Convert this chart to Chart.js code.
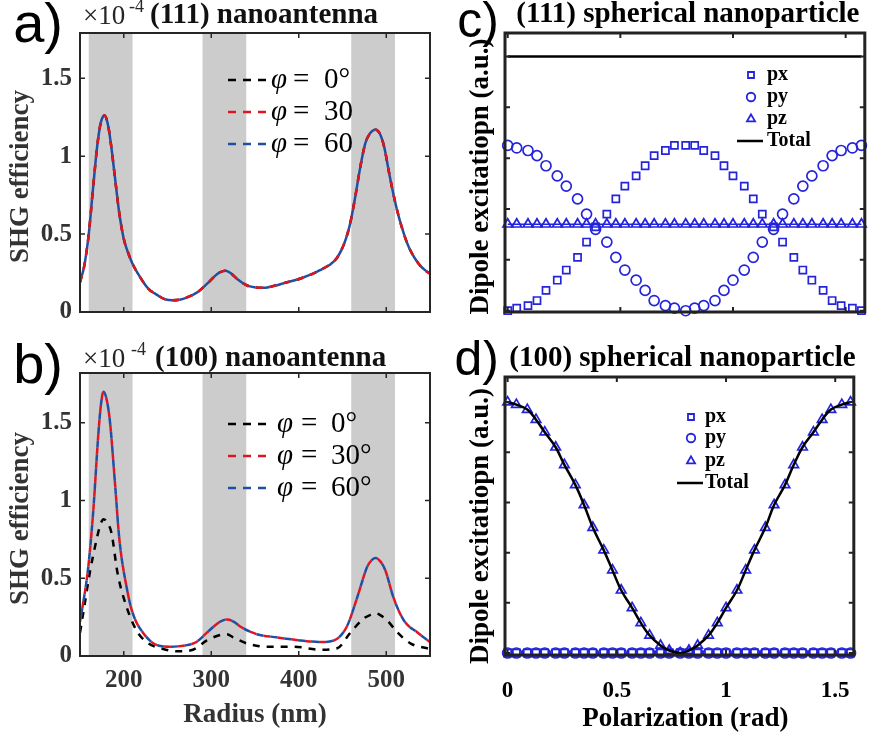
<!DOCTYPE html>
<html>
<head>
<meta charset="utf-8">
<script src="https://cdn.jsdelivr.net/npm/chart.js@4.4.1/dist/chart.umd.min.js"></script>
<style>
html, body { margin: 0; padding: 0; background: #fff; }
#wrap { position: relative; width: 872px; height: 736px; overflow: hidden; }
canvas { position: absolute; }
</style>
</head>
<body>
<div id="wrap">
<canvas id="panelA" width="436" height="340" style="left:0;top:0"></canvas>
<canvas id="panelB" width="436" height="396" style="left:0;top:340px"></canvas>
<canvas id="panelC" width="436" height="340" style="left:436px;top:0"></canvas>
<canvas id="panelD" width="436" height="396" style="left:436px;top:340px"></canvas>
</div>
<script>
// shaded resonance bands (nm)
const bandsNm = [[160, 210], [290, 340], [460, 510]];
const radiusTicks = [200, 300, 400, 500];
const shgTicks = [0, 0.5, 1, 1.5];
const polarTicks = [0, 0.5, 1, 1.5];
const dipoleTicks = [0, 0.2, 0.4, 0.6, 0.8, 1];

// (a) (111) nanoantenna, x10^-4 -- the three polarizations lie on top of each other
const radiusA = [150, 155, 160, 165, 170, 174, 178, 182, 186, 190, 195, 200, 205, 210, 218, 228, 238, 248, 256, 265,
  275, 285, 295, 304, 310, 316, 322, 330, 341, 350, 359, 370, 383, 402, 425, 437, 444, 452, 458, 464,
  470, 476, 482, 488, 493, 498, 503, 508, 513, 518, 524, 530, 537, 544, 550];
const shgA = [0.19, 0.3, 0.5, 0.8, 1.08, 1.22, 1.26, 1.2, 1.05, 0.86, 0.63, 0.47, 0.38, 0.31, 0.23, 0.15, 0.11, 0.08, 0.075, 0.08,
  0.1, 0.13, 0.18, 0.23, 0.255, 0.265, 0.25, 0.21, 0.17, 0.158, 0.155, 0.165, 0.185, 0.215, 0.27, 0.31, 0.35, 0.44, 0.55, 0.72,
  0.92, 1.08, 1.15, 1.17, 1.14, 1.05, 0.9, 0.76, 0.64, 0.54, 0.44, 0.37, 0.31, 0.27, 0.245];

// (b) (100) nanoantenna, x10^-4
const radiusB = [150, 153, 159, 165, 171, 174, 177, 180, 184, 190, 195, 203, 210, 222, 238, 253, 272, 283, 295, 310,
  318, 326, 333, 352, 375, 402, 425, 440, 455, 467, 478, 484, 488, 493, 499, 508, 520, 536, 550];
const shgB30 = [0.22, 0.32, 0.55, 0.92, 1.43, 1.62, 1.7, 1.66, 1.52, 1.11, 0.75, 0.45, 0.28, 0.15, 0.07, 0.06, 0.07, 0.09, 0.15, 0.22,
  0.235, 0.22, 0.19, 0.14, 0.12, 0.1, 0.09, 0.1, 0.19, 0.38, 0.57, 0.62, 0.63, 0.61, 0.55, 0.38, 0.23, 0.15, 0.09];
const shgB60 = [0.22, 0.32, 0.55, 0.92, 1.43, 1.62, 1.7, 1.66, 1.52, 1.11, 0.75, 0.45, 0.28, 0.15, 0.07, 0.06, 0.07, 0.09, 0.15, 0.22,
  0.235, 0.22, 0.19, 0.14, 0.12, 0.1, 0.09, 0.1, 0.19, 0.38, 0.57, 0.62, 0.63, 0.61, 0.55, 0.38, 0.23, 0.15, 0.09];
const radiusB0 = [150, 155, 161, 169, 173, 177, 181, 186, 193, 203, 214, 226, 245, 264, 279, 295, 310, 318, 325, 341,
  364, 394, 425, 444, 459, 474, 482, 488, 494, 501, 513, 528, 550];
const shgB0 = [0.15, 0.32, 0.53, 0.75, 0.84, 0.88, 0.86, 0.79, 0.53, 0.32, 0.17, 0.09, 0.045, 0.03, 0.04, 0.1, 0.135, 0.14, 0.12, 0.08,
  0.06, 0.06, 0.04, 0.05, 0.15, 0.24, 0.265, 0.275, 0.26, 0.23, 0.15, 0.08, 0.045];

// (c), (d) dipole excitation vs polarization angle (rad)
const polarRad = [0, 0.04, 0.09, 0.13, 0.17, 0.22, 0.26, 0.31, 0.35, 0.39, 0.44, 0.48, 0.52, 0.57, 0.61, 0.65, 0.70, 0.74, 0.79,
  0.83, 0.87, 0.92, 0.96, 1.00, 1.05, 1.09, 1.13, 1.18, 1.22, 1.27, 1.31, 1.35, 1.40, 1.44, 1.48, 1.53, 1.57];
const pxC = [0, 0.01, 0.02, 0.04, 0.08, 0.12, 0.16, 0.21, 0.27, 0.33, 0.38, 0.44, 0.49, 0.53, 0.57, 0.61, 0.63, 0.65, 0.65,
  0.65, 0.63, 0.61, 0.57, 0.53, 0.49, 0.44, 0.38, 0.33, 0.27, 0.21, 0.16, 0.12, 0.08, 0.04, 0.02, 0.01, 0];
const pyC = [0.65, 0.64, 0.63, 0.61, 0.57, 0.53, 0.49, 0.44, 0.38, 0.32, 0.27, 0.21, 0.16, 0.12, 0.08, 0.04, 0.02, 0.01, 0,
  0.01, 0.02, 0.04, 0.08, 0.12, 0.16, 0.21, 0.27, 0.32, 0.38, 0.44, 0.49, 0.53, 0.57, 0.61, 0.63, 0.64, 0.65];
const pzC = [0.34, 0.34, 0.34, 0.34, 0.34, 0.34, 0.34, 0.34, 0.34, 0.34, 0.34, 0.34, 0.34, 0.34, 0.34, 0.34, 0.34, 0.34, 0.34,
  0.34, 0.34, 0.34, 0.34, 0.34, 0.34, 0.34, 0.34, 0.34, 0.34, 0.34, 0.34, 0.34, 0.34, 0.34, 0.34, 0.34, 0.34];
const totalC = [1, 1, 1, 1, 1, 1, 1, 1, 1, 1, 1, 1, 1, 1, 1, 1, 1, 1, 1,
  1, 1, 1, 1, 1, 1, 1, 1, 1, 1, 1, 1, 1, 1, 1, 1, 1, 1];
const pxD = [0, 0, 0, 0, 0, 0, 0, 0, 0, 0, 0, 0, 0, 0, 0, 0, 0, 0, 0,
  0, 0, 0, 0, 0, 0, 0, 0, 0, 0, 0, 0, 0, 0, 0, 0, 0, 0];
const pyD = [0, 0, 0, 0, 0, 0, 0, 0, 0, 0, 0, 0, 0, 0, 0, 0, 0, 0, 0,
  0, 0, 0, 0, 0, 0, 0, 0, 0, 0, 0, 0, 0, 0, 0, 0, 0, 0];
const pzD = [1, 0.99, 0.97, 0.93, 0.88, 0.82, 0.75, 0.67, 0.59, 0.5, 0.41, 0.33, 0.25, 0.18, 0.12, 0.07, 0.03, 0.01, 0,
  0.01, 0.03, 0.07, 0.12, 0.18, 0.25, 0.33, 0.41, 0.5, 0.59, 0.67, 0.75, 0.82, 0.88, 0.93, 0.97, 0.99, 1];
const totalD = [1, 0.99, 0.97, 0.93, 0.88, 0.82, 0.75, 0.67, 0.59, 0.5, 0.41, 0.33, 0.25, 0.18, 0.12, 0.07, 0.03, 0.01, 0,
  0.01, 0.03, 0.07, 0.12, 0.18, 0.25, 0.33, 0.41, 0.5, 0.59, 0.67, 0.75, 0.82, 0.88, 0.93, 0.97, 0.99, 1];

const SERIF = 'Liberation Serif';
const SANS = 'Liberation Sans';
const RED = '#e01522';
const NAVY = '#1f4fa3';
const BLUE = '#2424dc';
const GREY = '#333333';

const pts = (xs, ys) => xs.map((x, i) => ({ x: x, y: ys[i] }));

function drawMarker(ctx, style, x, y, r) {
    ctx.beginPath();
    if (style === 'rect') {
        const s = r * Math.SQRT1_2;
        ctx.rect(x - s, y - s, 2 * s, 2 * s);
    } else if (style === 'circle') {
        ctx.arc(x, y, r, 0, Math.PI * 2);
    } else {
        ctx.moveTo(x, y - r);
        ctx.lineTo(x + r * 0.866, y + r / 2);
        ctx.lineTo(x - r * 0.866, y + r / 2);
        ctx.closePath();
    }
    ctx.stroke();
}

// bands, boxed frame with inward ticks, titles and legends
const panelPlugin = {
    id: 'panel',
    beforeDatasetsDraw(chart, args, o) {
        if (!o.bands) return;
        const { ctx, chartArea: a, scales: { x } } = chart;
        ctx.save();
        ctx.fillStyle = '#cccccc';
        o.bands.forEach(([b0, b1]) => {
            const x0 = Math.max(a.left, x.getPixelForValue(b0));
            const x1 = Math.min(a.right, x.getPixelForValue(b1));
            ctx.fillRect(x0, a.top, x1 - x0, a.bottom - a.top);
        });
        ctx.restore();
    },
    afterDraw(chart, args, o) {
        const { ctx, chartArea: a, scales: { x, y } } = chart;
        ctx.save();
        ctx.strokeStyle = o.frameColor;
        ctx.lineWidth = o.tickWidth;
        ctx.beginPath();
        x.ticks.forEach(t => {
            const px = x.getPixelForValue(t.value);
            ctx.moveTo(px, a.bottom); ctx.lineTo(px, a.bottom - o.tickLen);
            ctx.moveTo(px, a.top); ctx.lineTo(px, a.top + o.tickLen);
        });
        y.ticks.forEach(t => {
            const py = y.getPixelForValue(t.value);
            ctx.moveTo(a.left, py); ctx.lineTo(a.left + o.tickLen, py);
            ctx.moveTo(a.right, py); ctx.lineTo(a.right - o.tickLen, py);
        });
        ctx.stroke();
        ctx.lineWidth = o.frameWidth;
        ctx.strokeRect(a.left, a.top, a.right - a.left, a.bottom - a.top);

        (o.texts || []).forEach(t => {
            ctx.save();
            ctx.font = t.font;
            ctx.fillStyle = t.color || '#000';
            ctx.textAlign = t.align || 'left';
            ctx.textBaseline = t.baseline || 'alphabetic';
            const tx = typeof t.x === 'function' ? t.x(a) : t.x;
            const ty = typeof t.y === 'function' ? t.y(a) : t.y;
            ctx.translate(tx, ty);
            if (t.rotate) ctx.rotate(-Math.PI / 2);
            ctx.fillText(t.text, 0, 0);
            ctx.restore();
        });

        const dl = o.dashLegend;
        if (dl) {
            chart.data.datasets.forEach((ds, i) => {
                const ry = dl.rows[i];
                const [, val] = ds.label.split(' = ');
                ctx.strokeStyle = ds.borderColor;
                ctx.lineWidth = 2.5;
                ctx.setLineDash([8, 7]);
                ctx.beginPath();
                ctx.moveTo(dl.x0, ry); ctx.lineTo(dl.x1, ry);
                ctx.stroke();
                ctx.setLineDash([]);
                ctx.fillStyle = '#000';
                ctx.textBaseline = 'alphabetic';
                ctx.textAlign = 'left';
                ctx.font = 'italic 29px ' + SERIF;
                ctx.fillText('\u03c6', dl.phiX, ry + 8);
                ctx.font = '29px ' + SERIF;
                ctx.fillText('=', dl.eqX, ry + 8);
                ctx.fillText(val, dl.valX, ry + 8);
            });
        }

        const ml = o.markerLegend;
        if (ml) {
            chart.data.datasets.forEach((ds, i) => {
                const ry = ml.rows[i];
                if (ds.pointRadius > 0) {
                    ctx.strokeStyle = ds.pointBorderColor;
                    ctx.lineWidth = 1.8;
                    drawMarker(ctx, ds.pointStyle, ml.markerX, ry, ds.pointRadius * 0.85);
                } else {
                    ctx.strokeStyle = ds.borderColor;
                    ctx.lineWidth = 2.5;
                    ctx.beginPath();
                    ctx.moveTo(ml.lineX0, ry); ctx.lineTo(ml.lineX1, ry);
                    ctx.stroke();
                }
                ctx.fillStyle = '#000';
                ctx.font = 'bold 20px ' + SERIF;
                ctx.textAlign = 'left';
                ctx.textBaseline = 'middle';
                ctx.fillText(ds.label, ml.textX, ry);
            });
        }
        ctx.restore();
    }
};

function makeOptions(cfg) {
    return {
        responsive: false,
        animation: false,
        devicePixelRatio: 1,
        events: [],
        layout: { padding: cfg.padding },
        plugins: {
            legend: { display: false },
            tooltip: { enabled: false },
            panel: cfg.panel,
        },
        scales: {
            x: {
                type: 'linear',
                min: cfg.xMin,
                max: cfg.xMax,
                afterBuildTicks: s => { s.ticks = cfg.xTicks.map(v => ({ value: v })); },
                afterFit: s => { s.height = cfg.xHeight; },
                grid: { display: false, drawTicks: false },
                border: { display: false },
                ticks: {
                    display: cfg.xLabels,
                    autoSkip: false,
                    maxRotation: 0,
                    padding: cfg.xPad,
                    color: cfg.tickColor,
                    font: { family: SERIF, weight: 'bold', size: cfg.xFont },
                    callback: v => String(v),
                },
            },
            y: {
                type: 'linear',
                min: cfg.yMin,
                max: cfg.yMax,
                afterBuildTicks: s => { s.ticks = cfg.yTicks.map(v => ({ value: v })); },
                afterFit: s => { s.width = cfg.yWidth; },
                grid: { display: false, drawTicks: false },
                border: { display: false },
                ticks: {
                    display: cfg.yLabels,
                    padding: 8,
                    color: cfg.tickColor,
                    font: { family: SERIF, weight: 'bold', size: 25 },
                    callback: v => String(v),
                },
            },
        },
    };
}

function shgDataset(label, data, color, order, offset) {
    return {
        label: label,
        data: data,
        borderColor: color,
        borderWidth: 2.5,
        borderDash: [7, 7],
        borderDashOffset: offset,
        pointRadius: 0,
        cubicInterpolationMode: 'monotone',
        fill: false,
        order: order,
    };
}

function dipoleDataset(label, data, style, showLine, order) {
    const sizes = { rect: 5, circle: 5, triangle: 5.5 };
    return {
        label: label,
        data: data,
        showLine: showLine,
        borderColor: BLUE,
        borderWidth: 1.5,
        pointStyle: style,
        pointRadius: sizes[style],
        pointBorderColor: BLUE,
        pointBackgroundColor: 'rgba(0,0,0,0)',
        pointBorderWidth: 1.7,
        clip: 8,
        order: order,
    };
}

function totalDataset(data, order) {
    return {
        label: 'Total',
        data: data,
        borderColor: '#000',
        borderWidth: 2.5,
        pointRadius: 0,
        tension: 0.4,
        clip: 8,
        order: order,
    };
}

const shgAxisTitle = { text: 'SHG efficiency', font: 'bold 27px ' + SERIF, color: GREY, rotate: true,
    align: 'center', baseline: 'middle', x: 21, y: a => (a.top + a.bottom) / 2 + 4 };

// (a)
new Chart(document.getElementById('panelA'), {
    type: 'line',
    data: {
        datasets: [
            shgDataset('\u03c6 = 0\u00b0', pts(radiusA, shgA), '#000000', 3, 0),
            shgDataset('\u03c6 = 30', pts(radiusA, shgA), RED, 2, 0),
            shgDataset('\u03c6 = 60', pts(radiusA, shgA), NAVY, 1, 7),
        ],
    },
    options: makeOptions({
        padding: { left: 0, top: 33, right: 6, bottom: 0 },
        xMin: 150, xMax: 550, xTicks: radiusTicks, xHeight: 28, xLabels: false, xPad: 10, xFont: 25,
        yMin: 0, yMax: 1.79, yTicks: shgTicks, yWidth: 80, yLabels: true, tickColor: GREY,
        panel: {
            bands: bandsNm, frameColor: '#262626', frameWidth: 2, tickWidth: 1.5, tickLen: 5,
            texts: [
                { text: 'a)', font: '56px ' + SANS, x: 63, y: 42, align: 'right' },
                { text: '\u00d710', font: '27px ' + SERIF, color: '#262626', x: 83, y: 24 },
                { text: '-4', font: '18px ' + SERIF, color: '#262626', x: 129, y: 12 },
                { text: '(111) nanoantenna', font: 'bold 29px ' + SERIF, color: '#111', x: 150, y: 23 },
                shgAxisTitle,
            ],
            dashLegend: { x0: 228, x1: 268, phiX: 271, eqX: 293, valX: 324, rows: [80, 112, 144] },
        },
    }),
    plugins: [panelPlugin],
});

// (b)
new Chart(document.getElementById('panelB'), {
    type: 'line',
    data: {
        datasets: [
            shgDataset('\u03c6 = 0\u00b0', pts(radiusB0, shgB0), '#000000', 3, 0),
            shgDataset('\u03c6 = 30\u00b0', pts(radiusB, shgB30), RED, 2, 0),
            shgDataset('\u03c6 = 60\u00b0', pts(radiusB, shgB60), NAVY, 1, 7),
        ],
    },
    options: makeOptions({
        padding: { left: 0, top: 33, right: 6, bottom: 0 },
        xMin: 150, xMax: 550, xTicks: radiusTicks, xHeight: 80, xLabels: true, xPad: 10, xFont: 25,
        yMin: 0, yMax: 1.82, yTicks: shgTicks, yWidth: 80, yLabels: true, tickColor: GREY,
        panel: {
            bands: bandsNm, frameColor: '#262626', frameWidth: 2, tickWidth: 1.5, tickLen: 5,
            texts: [
                { text: 'b)', font: '56px ' + SANS, x: 63, y: 43, align: 'right' },
                { text: '\u00d710', font: '27px ' + SERIF, color: '#262626', x: 83, y: 27 },
                { text: '-4', font: '18px ' + SERIF, color: '#262626', x: 131, y: 15 },
                { text: '(100) nanoantenna', font: 'bold 29px ' + SERIF, color: '#111', x: 155, y: 26 },
                shgAxisTitle,
                { text: 'Radius (nm)', font: 'bold 27px ' + SERIF, color: GREY, align: 'center',
                  x: a => (a.left + a.right) / 2, y: 382 },
            ],
            dashLegend: { x0: 228, x1: 267, phiX: 277, eqX: 301, valX: 331, rows: [424, 456, 488].map(v => v - 340) },
        },
    }),
    plugins: [panelPlugin],
});

const dipoleTitle = yOff => ({ text: 'Dipole excitatiopn (a.u.)', font: 'bold 27px ' + SERIF, color: '#000',
    rotate: true, align: 'center', baseline: 'middle', x: 45, y: a => (a.top + a.bottom) / 2 + yOff });

// (c)
new Chart(document.getElementById('panelC'), {
    type: 'line',
    data: {
        datasets: [
            dipoleDataset('px', pts(polarRad, pxC), 'rect', false, 2),
            dipoleDataset('py', pts(polarRad, pyC), 'circle', false, 3),
            dipoleDataset('pz', pts(polarRad, pzC), 'triangle', true, 4),
            totalDataset(pts(polarRad, totalC), 1),
        ],
    },
    options: makeOptions({
        padding: { left: 0, top: 33, right: 3, bottom: 0 },
        xMin: -0.012, xMax: 1.585, xTicks: polarTicks, xHeight: 28, xLabels: false, xPad: 10, xFont: 23,
        yMin: -0.005, yMax: 1.092, yTicks: dipoleTicks, yWidth: 69, yLabels: false, tickColor: '#000',
        panel: {
            frameColor: '#222', frameWidth: 3, tickWidth: 2, tickLen: 5,
            texts: [
                { text: 'c)', font: '50px ' + SANS, x: 63, y: 37, align: 'right' },
                { text: '(111) spherical nanoparticle', font: 'bold 29px ' + SERIF, align: 'center',
                  x: a => (a.left + a.right) / 2 + 3, y: 22 },
                dipoleTitle(4),
            ],
            markerLegend: { markerX: 315, textX: 331, lineX0: 301, lineX1: 327, rows: [75, 97, 119, 141] },
        },
    }),
    plugins: [panelPlugin],
});

// (d)
new Chart(document.getElementById('panelD'), {
    type: 'line',
    data: {
        datasets: [
            dipoleDataset('px', pts(polarRad, pxD), 'rect', false, 3),
            dipoleDataset('py', pts(polarRad, pyD), 'circle', false, 2),
            dipoleDataset('pz', pts(polarRad, pzD), 'triangle', false, 4),
            totalDataset(pts(polarRad, totalD), 1),
        ],
    },
    options: makeOptions({
        padding: { left: 0, top: 37, right: 3, bottom: 0 },
        xMin: -0.012, xMax: 1.585, xTicks: polarTicks, xHeight: 81, xLabels: true, xPad: 22, xFont: 23,
        yMin: -0.008, yMax: 1.1, yTicks: dipoleTicks, yWidth: 69, yLabels: false, tickColor: '#000',
        panel: {
            frameColor: '#222', frameWidth: 3, tickWidth: 2, tickLen: 5,
            texts: [
                { text: 'd)', font: '50px ' + SANS, x: 63, y: 35, align: 'right' },
                { text: '(100) spherical nanoparticle', font: 'bold 29px ' + SERIF, align: 'center',
                  x: a => (a.left + a.right) / 2 + 3, y: 26 },
                dipoleTitle(10),
                { text: 'Polarization (rad)', font: 'bold 27px ' + SERIF, align: 'center',
                  x: a => (a.left + a.right) / 2 + 6, y: 386 },
            ],
            markerLegend: { markerX: 255, textX: 269, lineX0: 241, lineX1: 267, rows: [77, 98, 121, 143] },
        },
    }),
    plugins: [panelPlugin],
});
</script>
</body>
</html>
